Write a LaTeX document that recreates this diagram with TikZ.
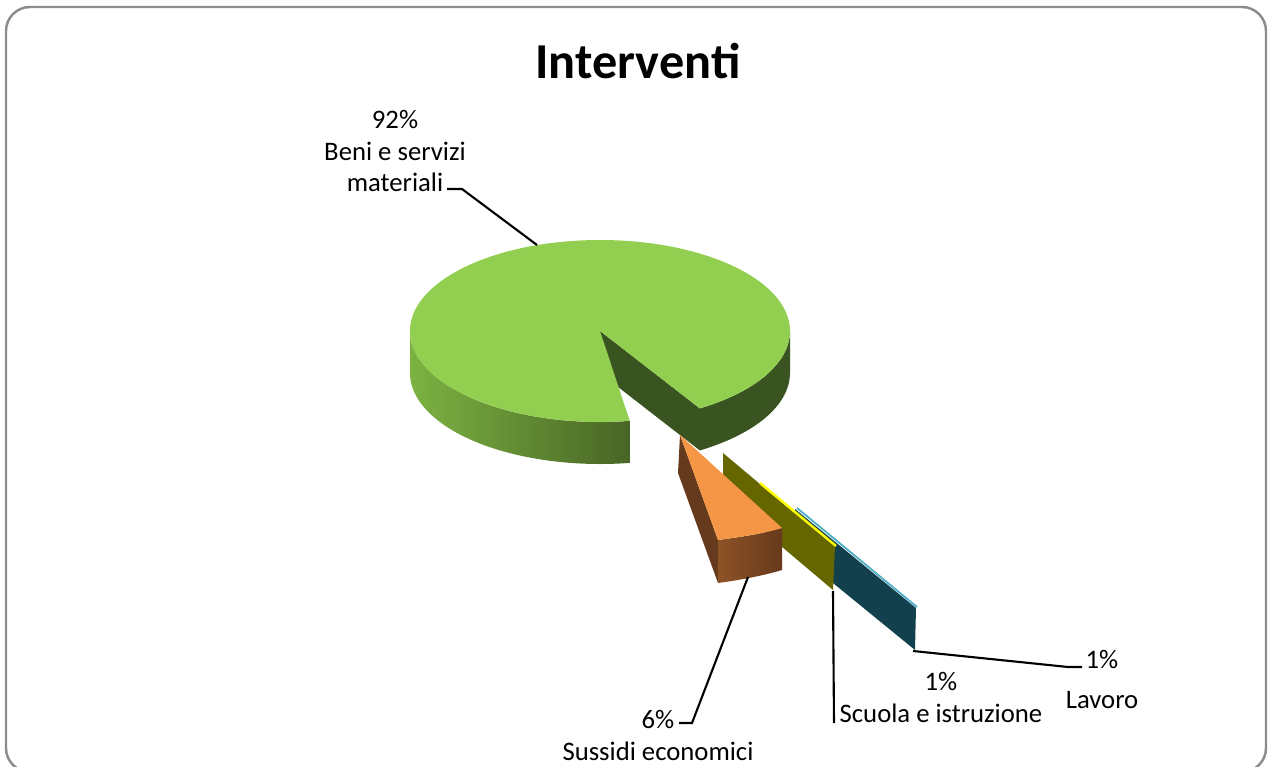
\documentclass[tikz,border=0pt]{standalone}
\usepackage{fontspec}
\setmainfont{Carlito}
\usetikzlibrary{calc}
\definecolor{leafgreen}{RGB}{146, 207, 80}
\definecolor{leafdark}{RGB}{57, 84, 32}
\definecolor{leafside}{RGB}{124, 178, 66}
\definecolor{leafshade}{RGB}{72, 101, 37}
\definecolor{peach}{RGB}{245, 150, 70}
\definecolor{rust}{RGB}{102, 58, 28}
\definecolor{rustlight}{RGB}{142, 82, 38}
\definecolor{olivebox}{RGB}{102, 102, 0}
\definecolor{lemon}{RGB}{255, 255, 0}
\definecolor{petrol}{RGB}{18, 64, 76}
\definecolor{aqua}{RGB}{75, 172, 198}
\definecolor{framegray}{RGB}{140, 140, 140}
\tikzset{
  leader/.style={black, line width=0.6pt},
  pctlabel/.style={font=\fontsize{7.6}{9.1}\selectfont, align=center, inner sep=0pt, anchor=base}
}

\begin{document}
\begin{tikzpicture}[x=0.1mm, y=-0.1mm]
            \useasboundingbox (0,0) rectangle (1271,767);
            \draw[framegray, line width=0.7pt, rounded corners=2.4mm] (6,7) rectangle (1266,772);
            \node[font=\fontsize{14.3}{17}\selectfont\bfseries, anchor=base] (title) at (638,78) {Interventi};
            % beni e servizi materiali
            \fill[leafdark]                                  (600,331) -- ++(58.3:190 and 91) -- ++(0,42) -- (600,373) -- cycle;
            \fill[leafdark]                                  (790,331) arc[start angle=0, end angle=58.3, x radius=190, y radius=91]
                                                             -- ++(0,42) arc[start angle=58.3, end angle=0, x radius=190, y radius=91] -- cycle;
            \shade[left color=leafside, right color=leafshade] (410,331) arc[start angle=180, end angle=81, x radius=190, y radius=91]
                                                             -- ++(0,42) arc[start angle=81, end angle=180, x radius=190, y radius=91] -- cycle;
            \fill[leafgreen]                                 (600,331) -- ++(81:190 and 91) arc[start angle=81, end angle=418.3, x radius=190, y radius=91] -- cycle;
            % lavoro
            \fill[petrol]                                    (795,509) -- (916,608) -- (915,650) -- (795,552) -- cycle;
            \draw[aqua, line width=0.5pt]                    (797,508) -- (917,607);
            % scuola e istruzione
            \fill[olivebox]                                  (723,453) -- (835,547) -- (833,590) -- (723,497) -- cycle;
            \draw[lemon, line width=0.7pt]                   (760,483) -- (836,546);
            % sussidi economici
            \fill[rust]                                      (680,435) -- (718,540) -- (718,583) -- (678,473) -- cycle;
            \shade[left color=rustlight, right color=rust]   (718,540) .. controls (740,537) and (762,534) .. (782,528)
                                                             -- (782,570) .. controls (762,576) and (740,580) .. (718,583) -- cycle;
            \fill[peach]                                     (680,435) -- (782,528) .. controls (762,534) and (740,537) .. (718,540) -- cycle;
            % labels
            \node[pctlabel] (beni)     at (395,192)  {92\%\\Beni e servizi\\materiali};
            \node[pctlabel] (sussidi)  at (658,760)  {6\%\\Sussidi economici};
            \node[pctlabel] (scuola)   at (941,722)  {1\%\\Scuola e istruzione};
            \node[pctlabel] (lavoro)   at (1102,708) {1\%\\[2.0pt]Lavoro};
            \coordinate (beniFoot)    at (447,189);
            \coordinate (beniTip)     at (537,245);
            \coordinate (sussidiFoot) at (679,723);
            \coordinate (sussidiTip)  at (748,577);
            \coordinate (scuolaFoot)  at (834,723);
            \coordinate (scuolaTip)   at (833,591);
            \coordinate (lavoroFoot)  at (1082,667);
            \coordinate (lavoroTip)   at (913,651);
            \draw[leader] (beniFoot) -- ++(15,0) -- (beniTip);
            \draw[leader] (sussidiFoot) -- ++(13,0) -- (sussidiTip);
            \draw[leader] (scuolaFoot) -- (scuolaTip);
            \draw[leader] (lavoroFoot) -- ++(-14,0) -- (lavoroTip);
\end{tikzpicture}
\end{document}
